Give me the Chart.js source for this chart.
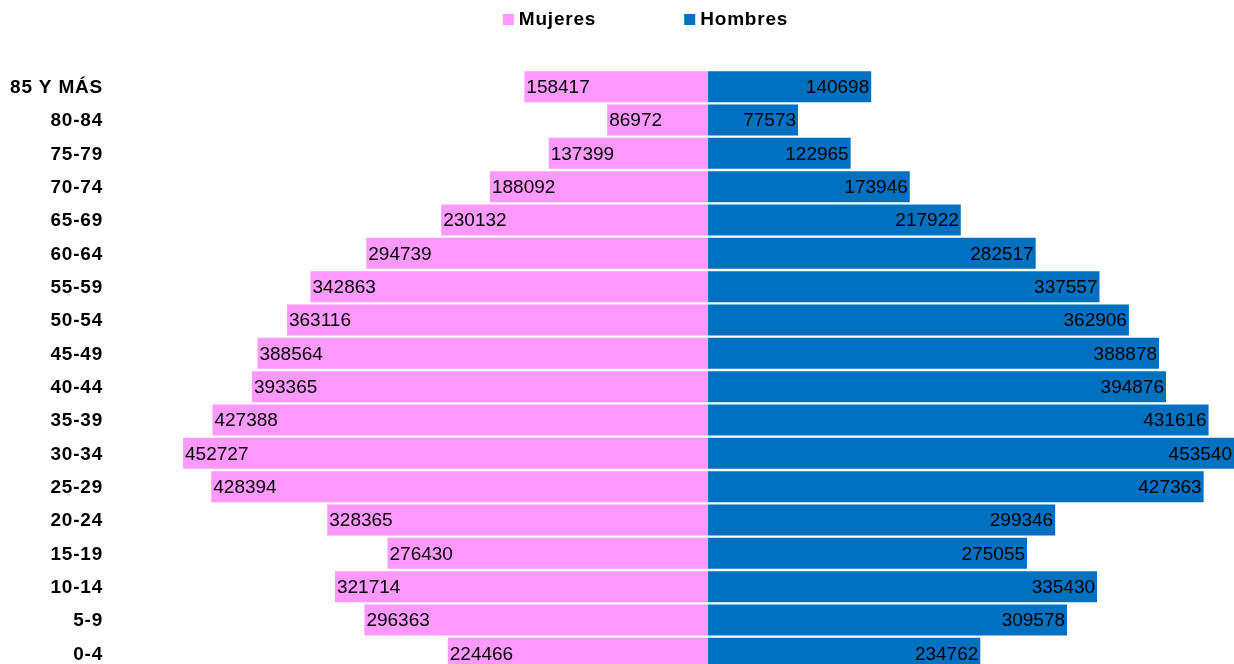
<!DOCTYPE html>
<html>
<head>
<meta charset="utf-8">
<script src="https://cdn.jsdelivr.net/npm/chart.js@4.4.1/dist/chart.umd.min.js"></script>
<style>
  html, body { margin: 0; padding: 0; background: #fff; overflow: hidden; }
  canvas { display: block; }
</style>
</head>
<body>
<canvas id="pyramid" width="1234" height="670"></canvas>
<script>
const ageGroups = ["85 Y MÁS", "80-84", "75-79", "70-74", "65-69", "60-64", "55-59", "50-54", "45-49",
                   "40-44", "35-39", "30-34", "25-29", "20-24", "15-19", "10-14", "5-9", "0-4"];
const mujeres = [158417, 86972, 137399, 188092, 230132, 294739, 342863, 363116, 388564,
                 393365, 427388, 452727, 428394, 328365, 276430, 321714, 296363, 224466];
const hombres = [140698, 77573, 122965, 173946, 217922, 282517, 337557, 362906, 388878,
                 394876, 431616, 453540, 427363, 299346, 275055, 335430, 309578, 234762];
const xMin = -514000;
const xMax = 453540;

const pink = "#ff99ff";
const blue = "#0070c0";
const fontFamily = "'Liberation Sans', Arial, sans-serif";

// bold text in the original is a bit wider than normal
const boldSpacing = {
    id: "boldSpacing",
    beforeDraw(chart) {
        chart.ctx.letterSpacing = "0.8px";
    }
};

// draws the numbers inside the end of every bar
const barLabels = {
    id: "barLabels",
    afterDatasetsDraw(chart) {
        var ctx = chart.ctx;
        ctx.save();
        ctx.letterSpacing = "0px";
        ctx.font = "19px " + fontFamily;
        ctx.fillStyle = "#000";
        ctx.textBaseline = "middle";
        chart.data.datasets.forEach((ds, i) => {
            var meta = chart.getDatasetMeta(i);
            meta.data.forEach((bar, j) => {
                var value = Math.abs(ds.data[j]);
                if (ds.data[j] < 0) {
                    ctx.textAlign = "left";
                    ctx.fillText(value, bar.x + 2, bar.y + 1);
                } else {
                    ctx.textAlign = "right";
                    ctx.fillText(value, bar.x - 2, bar.y + 1);
                }
            });
        });
        ctx.restore();
    }
};

// legend with wide spacing between the two entries
const wideLegend = {
    id: "wideLegend",
    afterDraw(chart) {
        var ctx = chart.ctx;
        ctx.save();
        ctx.letterSpacing = "0.8px";
        ctx.font = "bold 19px " + fontFamily;
        ctx.textBaseline = "middle";
        ctx.textAlign = "left";
        var gap = 88;
        var box = 11;
        var items = chart.data.datasets.map(ds => ({
            text: ds.label,
            color: ds.backgroundColor,
            w: box + 5 + ctx.measureText(ds.label).width
        }));
        var total = items.reduce((s, it) => s + it.w, 0) + gap * (items.length - 1);
        var x = 645.5 - total / 2;
        items.forEach(it => {
            ctx.fillStyle = it.color;
            ctx.fillRect(x, 14, box, box);
            ctx.fillStyle = "#000";
            ctx.fillText(it.text, x + box + 5, 20);
            x += it.w + gap;
        });
        ctx.restore();
    }
};

new Chart(document.getElementById("pyramid"), {
    type: "bar",
    data: {
        labels: ageGroups,
        datasets: [
            {
                label: "Mujeres",
                data: mujeres.map(v => -v),
                backgroundColor: pink,
                borderWidth: 0,
                barPercentage: 0.93,
                categoryPercentage: 1
            },
            {
                label: "Hombres",
                data: hombres,
                backgroundColor: blue,
                borderWidth: 0,
                barPercentage: 0.93,
                categoryPercentage: 1
            }
        ]
    },
    options: {
        indexAxis: "y",
        responsive: false,
        animation: false,
        layout: { autoPadding: false, padding: { top: 70, bottom: 0, left: 0, right: 0 } },
        plugins: {
            legend: { display: false },
            tooltip: { enabled: false }
        },
        scales: {
            x: {
                stacked: true,
                display: false,
                min: xMin,
                max: xMax
            },
            y: {
                stacked: true,
                grid: { display: false, drawTicks: false },
                border: { display: false },
                ticks: {
                    color: "#000",
                    padding: 9,
                    labelOffset: 1,
                    font: { family: fontFamily, size: 19, weight: "bold" }
                },
                afterFit(scale) {
                    // fixed label column, no extra padding below the last row
                    scale.width = 112;
                    scale.paddingTop = 0;
                    scale.paddingBottom = 0;
                }
            }
        }
    },
    plugins: [boldSpacing, barLabels, wideLegend]
});
</script>
</body>
</html>
